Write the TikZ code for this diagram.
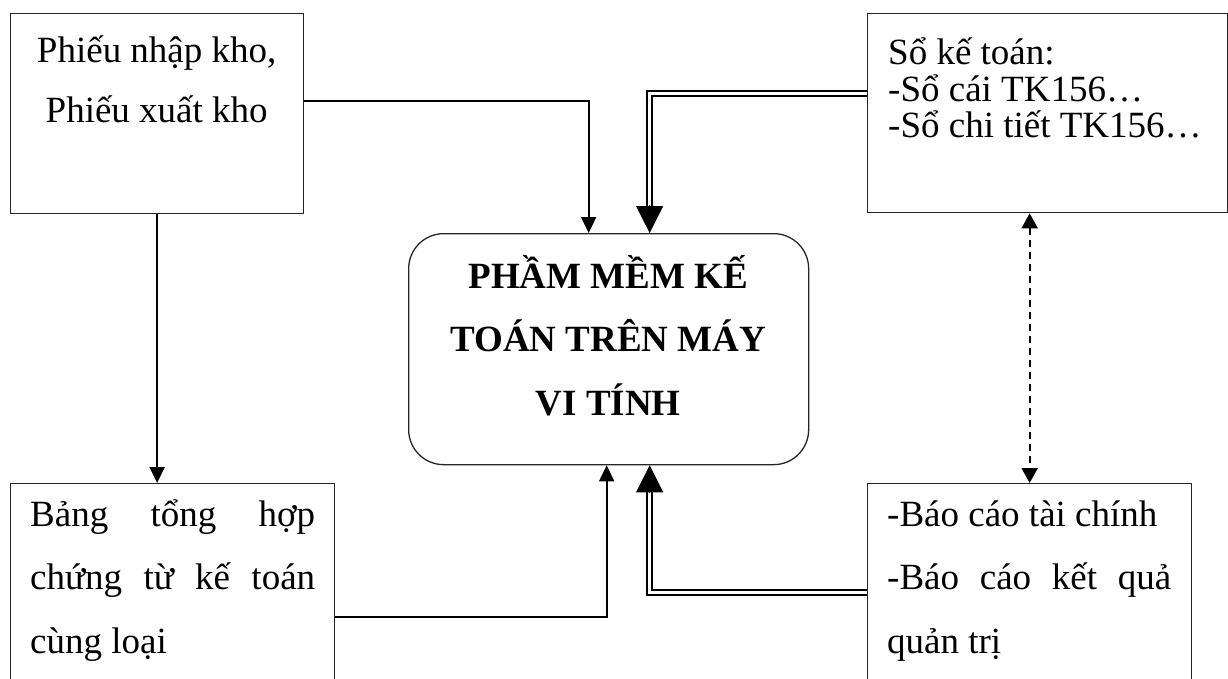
\documentclass[tikz,border=0pt]{standalone}
\usepackage{fontspec}
\setmainfont{Liberation Serif}
\usetikzlibrary{arrows.meta}

\tikzset{
  box/.style={draw=black!85, line width=1.3pt, rectangle, inner sep=0pt, anchor=north west},
  roundbox/.style={box, rounded corners=35pt},
  conn/.style={line width=2pt, -{Triangle[width=15pt,length=16pt]}},
  dblline/.style={double, double distance=3.4pt, line width=2pt, line join=miter},
  bigtip/.style={line width=1pt, -{Triangle[width=27pt,length=27pt]}},
  dashconn/.style={line width=2pt, dash pattern=on 7pt off 5pt,
    {Triangle[width=16pt,length=15pt]}-{Triangle[width=16pt,length=15pt]}},
  txt/.style={inner sep=0pt, anchor=base west},
}

\begin{document}
\begin{tikzpicture}[x=1pt, y=-1pt]
  \useasboundingbox (0,0) rectangle (1228,679);
  \clip (0,0) rectangle (1228,679);

  % boxes
  \node[box, minimum width=293pt, minimum height=200pt] (A) at (10,13) {};
  \node[box, minimum width=324pt, minimum height=260pt] (B) at (10,483) {};
  \node[box, minimum width=360pt, minimum height=199pt] (C) at (867,13) {};
  \node[box, minimum width=324pt, minimum height=260pt] (D) at (867,483) {};
  \node[roundbox, minimum width=400pt, minimum height=231pt] (P) at (408,233) {};

  % texts
  \node[txt] (tA) at (10,63) {\parbox[t]{293pt}{\fontsize{37}{60}\selectfont\centering
    Phiếu nhập kho,\\ Phiếu xuất kho}};
  \node[txt] (tC) at (888,65) {\parbox[t]{330pt}{\fontsize{37}{36.5}\selectfont\raggedright
    Sổ kế toán:\\ -Sổ cái TK156…\\ -Sổ chi tiết TK156…}};
  \node[txt] (tB) at (30,526) {\parbox[t]{285pt}{\fontsize{37}{63.5}\selectfont\noindent
    Bảng\hfill tổng\hfill hợp\\ chứng\hfill từ\hfill kế\hfill toán\\ cùng loại}};
  \node[txt] (tD) at (887,526) {\parbox[t]{284pt}{\fontsize{37}{63.5}\selectfont\noindent
    -Báo cáo tài chính\\ -Báo\hfill cáo\hfill kết\hfill quả\\ quản trị}};
  \node[txt] (tP) at (408,288) {\parbox[t]{400pt}{\fontsize{37}{63.5}\selectfont\bfseries\centering
    PHẦM MỀM KẾ\\ TOÁN TRÊN MÁY\\ VI TÍNH}};

  % single connectors
  \draw[conn] ([yshift=13pt]A.east) -| ([xshift=-20pt]P.north);
  \draw[conn] (A.south) -- (A.south |- B.north);
  \draw[conn] ([yshift=-3pt]B.east) -| ([xshift=-2pt]P.south);

  % double connectors
  \draw[dblline] ([yshift=19.5pt]C.west) -| ([xshift=41pt,yshift=27pt]P.north);
  \draw[bigtip] ([xshift=41pt,yshift=28pt]P.north) -- ([xshift=41pt]P.north);
  \draw[dblline] ([yshift=21pt]D.west) -| ([xshift=41pt,yshift=-27pt]P.south);
  \draw[bigtip] ([xshift=41pt,yshift=-28pt]P.south) -- ([xshift=41pt]P.south);

  % dashed two-way link
  \draw[dashconn] (D.north |- C.south) -- (D.north);
\end{tikzpicture}
\end{document}
